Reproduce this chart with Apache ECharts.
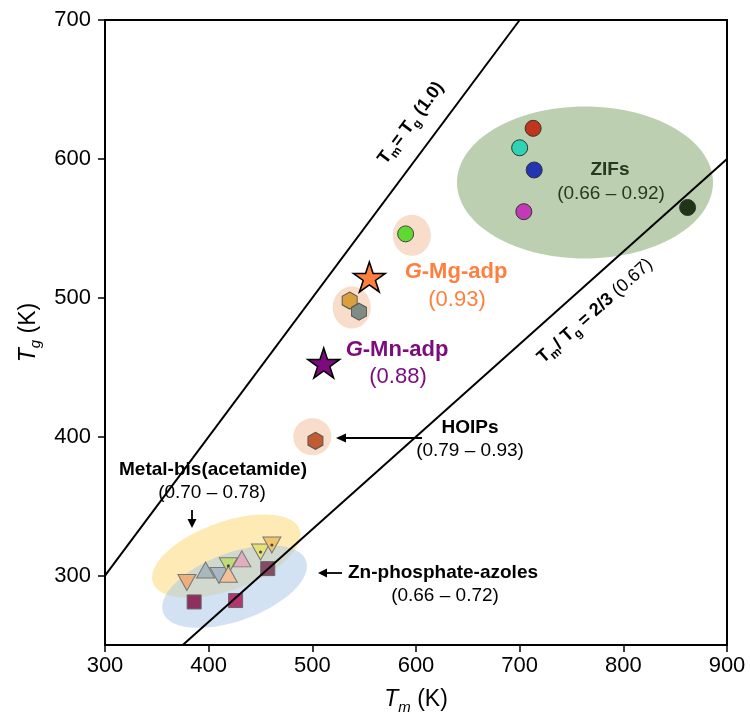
<!DOCTYPE html>
<html><head><meta charset="utf-8">
<script src="https://cdn.jsdelivr.net/npm/echarts@6/dist/echarts.min.js"></script>
<style>html,body{margin:0;padding:0;background:#fff}#c{width:750px;height:720px}</style>
</head><body><div id="c"></div>
<script>
// ---------- data ----------
const xTicks = [300, 400, 500, 600, 700, 800, 900];
const yTicks = [300, 400, 500, 600, 700];

// ZIFs
const zifTm = [713, 700, 714, 704, 862];
const zifTg = [622, 608, 592, 562, 565];
const zifColors = ['#c0361c', '#2ed3b4', '#2236b4', '#c23ab8', '#1f3517'];
// green circle near G-Mg-adp
const cpTm = [590];
const cpTg = [546];
const cpColors = ['#5fd830'];
// hexagons (coordination polymers + HOIPs)
const hexTm = [536, 545, 503];
const hexTg = [498, 490, 397];
const hexColors = ['#daa03e', '#7d8c84', '#c25a32'];
// stars: G-Mg-adp, G-Mn-adp
const starTm = [555, 511];
const starTg = [515, 453];
const starColors = ['#ff7f3f', '#7d0b7d'];
// triangles: metal-bis(acetamide)
const triTm = [379, 397, 410, 419, 419, 432, 450, 461];
const triTg = [295, 304, 300, 307, 301, 312, 317, 322];
const triDown = [1, 0, 1, 1, 0, 0, 1, 1];
const triDot = [0, 0, 0, 1, 0, 0, 1, 1];
const triColors = ['#eeb07a', '#a9b8bc', '#a9b9c4', '#c2db78', '#f0c098', '#e0aebe', '#e5e27a', '#f2c46a'];
// squares: Zn-phosphate-azoles
const sqTm = [386, 426, 457];
const sqTg = [281, 282, 305];
const sqColors = ['#8e2f5e', '#b23670', '#864a66'];
// reference lines
const lineEqual = [[300, 300], [700, 700]];        // Tm = Tg
const lineTwoThirds = [[375, 250], [900, 600]];    // Tg/Tm = 2/3
// highlighted regions (centres in data units)
const regionTm = [417, 425, 763, 596, 538, 500];
const regionTg = [314, 292, 583, 545, 493, 400];

// ---------- styles ----------
const regionStyle = [
  {rx: 78, ry: 34, rot: 20, fill: 'rgba(252,221,135,0.62)'},
  {rx: 76, ry: 34, rot: 20, fill: 'rgba(165,197,231,0.5)'},
  {rx: 128, ry: 76, rot: 0, fill: '#bccfb0'},
  {rx: 19, ry: 20.5, rot: 0, fill: '#f8ddcb'},
  {rx: 19, ry: 21, rot: 0, fill: '#f8ddcb'},
  {rx: 19, ry: 18.5, rot: 0, fill: '#f8ddcb'}
];
const FONT = '"Liberation Sans", Arial, Helvetica, sans-serif';
const hexPath = 'path://M0,-1L0.866,-0.5L0.866,0.5L0,1L-0.866,0.5L-0.866,-0.5Z';
const starPath = 'path://M0,-1L0.2245,-0.309L0.951,-0.309L0.363,0.118L0.588,0.809L0,0.382L-0.588,0.809L-0.363,0.118L-0.951,-0.309L-0.2245,-0.309Z';

function ellipseItem(params, api) {
  const e = regionStyle[params.dataIndex];
  const c = api.coord([api.value(0), api.value(1)]);
  const phi = e.rot * Math.PI / 180;
  const pts = [];
  for (let i = 0; i < 120; i++) {
    const t = i / 120 * 2 * Math.PI;
    const a = Math.cos(t) * e.rx, b = Math.sin(t) * e.ry;
    pts.push([c[0] + a * Math.cos(phi) + b * Math.sin(phi), c[1] - a * Math.sin(phi) + b * Math.cos(phi)]);
  }
  return {type: 'polygon', shape: {points: pts}, style: {fill: e.fill}};
}

function pts(xs, ys, colors, extra) {
  return xs.map((x, i) => Object.assign({value: [x, ys[i]], itemStyle: {color: colors[i], opacity: 1}}, extra ? extra(i) : {}));
}

const chart = echarts.init(document.getElementById('c'), null, {renderer: 'canvas'});

const axisNameRich = {
  i: {fontStyle: 'italic', fontSize: 23, fontFamily: FONT, color: '#000', lineHeight: 30},
  s: {fontStyle: 'italic', fontSize: 15, fontFamily: FONT, color: '#000', verticalAlign: 'bottom', lineHeight: 14},
  n: {fontSize: 23, fontFamily: FONT, color: '#000', lineHeight: 30}
};

const option = {
  animation: false,
  backgroundColor: '#fff',
  grid: {left: 105, right: 23, top: 20, bottom: 75, show: true, borderColor: '#000', borderWidth: 2, backgroundColor: 'transparent'},
  xAxis: {
    type: 'value', min: 300, max: 900, interval: 100,
    name: '{i|T}{s|m}{n| (K)}', nameLocation: 'middle', nameGap: 40,
    nameTextStyle: {rich: axisNameRich},
    axisLine: {show: true, onZero: false, lineStyle: {color: '#000', width: 2}},
    axisTick: {show: true, length: 7, lineStyle: {color: '#000', width: 1.5}, customValues: xTicks},
    axisLabel: {color: '#000', fontSize: 22, fontFamily: FONT, margin: 10, customValues: xTicks},
    splitLine: {show: false}
  },
  yAxis: {
    type: 'value', min: 250, max: 700, interval: 50,
    name: '{i|T}{s|g}{n| (K)}', nameLocation: 'middle', nameGap: 60,
    nameTextStyle: {rich: axisNameRich},
    axisLine: {show: true, onZero: false, lineStyle: {color: '#000', width: 2}},
    axisTick: {show: true, length: 7, lineStyle: {color: '#000', width: 1.5}, customValues: yTicks},
    axisLabel: {color: '#000', fontSize: 22, fontFamily: FONT, margin: 14, customValues: yTicks},
    splitLine: {show: false}
  },
  series: [
    {type: 'custom', name: 'regions', z: 1, silent: true, renderItem: ellipseItem,
     data: regionTm.map((x, i) => [x, regionTg[i]])},
    {type: 'scatter', name: 'Zn-phosphate-azoles', z: 3, silent: true, symbol: 'rect', symbolSize: 14,
     itemStyle: {borderColor: '#666', borderWidth: 1, opacity: 1}, data: pts(sqTm, sqTg, sqColors)},
    {type: 'scatter', name: 'Metal-bis(acetamide)', z: 3, silent: true, symbol: 'triangle', symbolSize: [18, 16],
     itemStyle: {borderColor: '#777', borderWidth: 1, opacity: 1},
     data: pts(triTm, triTg, triColors, i => ({symbolRotate: triDown[i] ? 180 : 0}))},
    {type: 'scatter', name: 'dots', z: 4, silent: true, symbol: 'circle', symbolSize: 3,
     itemStyle: {color: '#444', opacity: 1},
     data: triTm.map((x, i) => [x, triTg[i]]).filter((d, i) => triDot[i])},
    {type: 'scatter', name: 'ZIFs', z: 3, silent: true, symbol: 'circle', symbolSize: 16,
     itemStyle: {borderColor: '#333', borderWidth: 1, opacity: 1}, data: pts(zifTm, zifTg, zifColors)},
    {type: 'scatter', name: 'CP', z: 3, silent: true, symbol: 'circle', symbolSize: 16,
     itemStyle: {borderColor: '#444', borderWidth: 1, opacity: 1}, data: pts(cpTm, cpTg, cpColors)},
    {type: 'scatter', name: 'hex', z: 3, silent: true, symbol: hexPath, symbolSize: [15, 17],
     itemStyle: {borderColor: '#555', borderWidth: 1, opacity: 1}, data: pts(hexTm, hexTg, hexColors)},
    {type: 'scatter', name: 'stars', z: 5, silent: true, symbol: starPath, symbolSize: [32, 30],
     itemStyle: {borderColor: '#000', borderWidth: 1.5, opacity: 1}, data: pts(starTm, starTg, starColors)},
    {type: 'line', name: 'Tm=Tg', z: 4, silent: true, symbol: 'none', data: lineEqual,
     lineStyle: {color: '#000', width: 2}},
    {type: 'line', name: '2/3', z: 4, silent: true, symbol: 'none', data: lineTwoThirds,
     lineStyle: {color: '#000', width: 2}}
  ]
};
chart.setOption(option);

// ---------- annotations ----------
function txt(x, y, text, o) {
  return Object.assign({type: 'text', x: x, y: y, z: 100, silent: true,
    style: Object.assign({text: text, fontFamily: FONT, fontSize: 19, fill: '#000', align: 'center', verticalAlign: 'middle'}, o || {})});
}
function arrow(x1, y1, x2, y2, head) {
  const ang = Math.atan2(y2 - y1, x2 - x1);
  const hl = head || 9, hw = 4.5;
  const bx = x2 - hl * Math.cos(ang), by = y2 - hl * Math.sin(ang);
  const px = -Math.sin(ang) * hw, py = Math.cos(ang) * hw;
  return [
    {type: 'line', z: 100, silent: true, shape: {x1: x1, y1: y1, x2: bx, y2: by}, style: {stroke: '#000', lineWidth: 1.8}},
    {type: 'polygon', z: 100, silent: true, shape: {points: [[x2, y2], [bx + px, by + py], [bx - px, by - py]]}, style: {fill: '#000'}}
  ];
}
const bold = {fontWeight: 'bold'};
const lineRich = {
  b: {fontWeight: 'bold', fontSize: 18, fontFamily: FONT, lineHeight: 24, fill: '#000'},
  s: {fontWeight: 'bold', fontSize: 12, fontFamily: FONT, verticalAlign: 'bottom', lineHeight: 12, fill: '#000'},
  r: {fontSize: 18, fontFamily: FONT, lineHeight: 24, fill: '#000'}
};
const gRich = (col) => ({
  gi: {fontWeight: 'bold', fontStyle: 'italic', fontSize: 22, fontFamily: FONT, fill: col},
  gb: {fontWeight: 'bold', fontSize: 22, fontFamily: FONT, fill: col}
});
const graphics = [
  txt(213, 470, 'Metal-bis(acetamide)', bold),
  txt(212, 493, '(0.70 \u2013 0.78)'),
  txt(470, 428, 'HOIPs', bold),
  txt(470, 451, '(0.79 \u2013 0.93)'),
  txt(348, 573, 'Zn-phosphate-azoles', Object.assign({align: 'left'}, bold)),
  txt(445, 596, '(0.66 \u2013 0.72)'),
  txt(610, 170, 'ZIFs', {fontWeight: 'bold', fill: '#263a1e'}),
  txt(611, 194, '(0.66 \u2013 0.92)', {fill: '#263a1e'}),
  txt(456, 272, '{gi|G}{gb|-Mg-adp}', {rich: gRich('#ff7f3f')}),
  txt(457, 300, '(0.93)', {fontSize: 22, fill: '#ff7f3f'}),
  txt(397, 350, '{gi|G}{gb|-Mn-adp}', {rich: gRich('#7d0b7d')}),
  txt(398, 377, '(0.88)', {fontSize: 22, fill: '#7d0b7d'}),
  Object.assign(txt(411, 123, '{b|T}{s|m}{b|= T}{s|g}{b| (1.0)}', {rich: lineRich}), {rotation: 53.2 * Math.PI / 180}),
  Object.assign(txt(595, 311, '{b|T}{s|m}{b|/ T}{s|g}{b| = 2/3}{r| (0.67)}', {rich: lineRich}), {rotation: 41.7 * Math.PI / 180})
].concat(arrow(422, 438, 336, 438, 10), arrow(192, 510, 192, 528, 9), arrow(342, 573, 318, 573, 9));

chart.setOption({graphic: {elements: graphics}});
</script>
</body></html>
